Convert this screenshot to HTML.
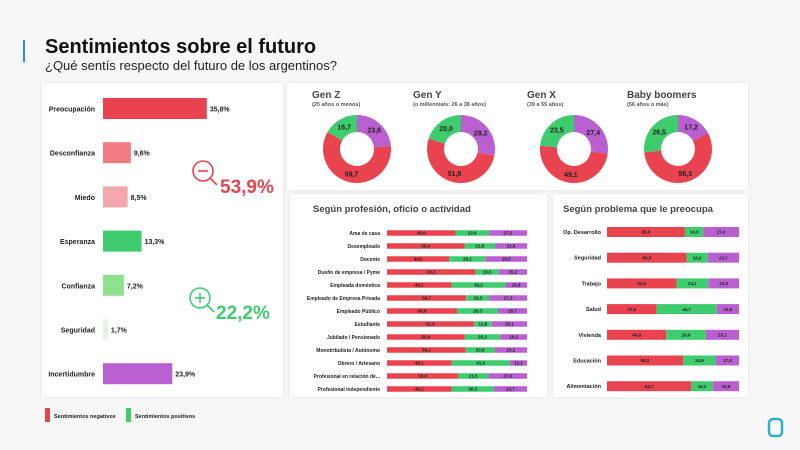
<!DOCTYPE html>
<html><head><meta charset="utf-8"><style>
body{margin:0;width:800px;height:450px;background:#f7f7f7;font-family:"Liberation Sans",sans-serif;position:relative;overflow:hidden}
.panel{position:absolute;background:#fff;box-shadow:0 0 4px rgba(0,0,0,.08)}
svg text{font-family:"Liberation Sans",sans-serif}
</style></head><body>
<div style="position:absolute;left:23px;top:40px;width:2px;height:22px;background:#2d8fd6"></div>
<div style="position:absolute;left:45px;top:36px;font-size:20px;font-weight:bold;color:#111">Sentimientos sobre el futuro</div>
<div style="position:absolute;left:45px;top:58px;font-size:13px;color:#222">¿Qué sentís respecto del futuro de los argentinos?</div>
<div class="panel" style="left:42px;top:83px;width:241px;height:314px"></div>
<div class="panel" style="left:287px;top:83px;width:461px;height:107px"></div>
<div class="panel" style="left:290px;top:194px;width:257px;height:203px"></div>
<div class="panel" style="left:553px;top:194px;width:195px;height:203px"></div>
<svg id="s" width="800" height="450" style="position:absolute;left:0;top:0"></svg>
<script>
const sentLabels=["Preocupación","Desconfianza","Miedo","Esperanza","Confianza","Seguridad","Incertidumbre"];
const sentValues=[35.8,9.6,8.5,13.3,7.2,1.7,23.9];
const sentColors=["#e8434f","#ef7b83","#f3a7ac","#3fcc6e","#8ee08c","#e3f5e0","#b95fd0"];
const genTitles=["Gen Z","Gen Y","Gen X","Baby boomers"];
const genSubs=["(25 años o menos)","(o millennials: 26 a 38 años)","(39 a 55 años)","(56 años o más)"];
const genPurple=[23.6,28.2,27.4,17.2];
const genRed=[59.7,51.8,49.1,56.3];
const genGreen=[16.7,20.0,23.5,26.5];
const profLabels=["Ama de casa","Desempleado","Docente","Dueño de empresa / Pyme","Empleada doméstica","Empleado de Empresa Privada","Empleado Público","Estudiante","Jubilado / Pensionado","Monotributista / Autónomo","Obrero / Artesano","Profesional en relación de...","Profesional independiente"];
const profRed=[48.9,55.4,44.5,63.3,46.1,56.7,50.0,62.0,55.6,56.2,46.1,50.9,46.2];
const profGreen=[23.9,21.8,26.1,16.5,38.2,16.3,29.3,12.8,25.3,20.6,41.6,21.5,30.3];
const profPurple=[27.2,22.8,29.5,20.2,15.6,27.2,20.7,25.1,19.2,23.2,12.2,27.6,23.7];
const probLabels=["Op. Desarrollo","Seguridad","Trabajo","Salud","Vivienda","Educación","Alimentación"];
const probRed=[59.0,60.3,52.6,37.5,44.9,58.2,63.7];
const probGreen=[14.0,16.0,24.1,45.7,29.9,24.9,16.2];
const probPurple=[27.0,23.7,23.3,16.9,25.2,17.8,19.8];
const RED="#e8434f",GREEN="#3fcc6e",PURPLE="#b95fd0";
const s=document.getElementById('s');const NS="http://www.w3.org/2000/svg";
function mk(t,a,txt){const e=document.createElementNS(NS,t);for(const k in a)e.setAttribute(k,a[k]);if(txt!==undefined)e.textContent=txt;s.appendChild(e);return e;}
const fmt=v=>v.toFixed(1).replace('.',',');
const sx=v=>v*2.9;
sentValues.forEach((v,i)=>{const y=109+i*44.2;
 let e=mk('rect',{x:103,y:y-11,width:sx(v),height:21,fill:sentColors[i]});
 
 e=mk('text',{x:95,y:y+2.5,'text-anchor':'end','font-size':7,'font-weight':'bold',fill:'#222'},sentLabels[i]);
 
 e=mk('text',{x:106+sx(v),y:y+2.5,'font-size':7,'font-weight':'bold',fill:'#222'},fmt(v)+'%');
 });
function icon(cx,cy,col,plus){mk('circle',{cx:cx,cy:cy,r:10,fill:'none',stroke:col,'stroke-width':1.6});
 mk('line',{x1:cx-5,y1:cy,x2:cx+5,y2:cy,stroke:col,'stroke-width':1.6});
 if(plus)mk('line',{x1:cx,y1:cy-5,x2:cx,y2:cy+5,stroke:col,'stroke-width':1.6});
 mk('line',{x1:cx+7,y1:cy+7,x2:cx+14,y2:cy+14,stroke:col,'stroke-width':1.6});}
icon(203,171,RED,false);icon(200,298,GREEN,true);
let t=mk('text',{x:220,y:193,'font-size':19,'font-weight':'bold',fill:RED},'53,9%');
t=mk('text',{x:216,y:319,'font-size':19,'font-weight':'bold',fill:GREEN},'22,2%');
mk('rect',{x:45,y:408,width:5,height:14,fill:RED});
t=mk('text',{x:54,y:418,'font-size':5.5,'font-weight':'bold',fill:'#222'},'Sentimientos negativos');
mk('rect',{x:126,y:408,width:5,height:14,fill:GREEN});
t=mk('text',{x:135,y:418,'font-size':5.5,'font-weight':'bold',fill:'#222'},'Sentimientos positivos');
const gcx=[357,461,574,678],gtx=[312,413,527,627];
function arc(cx,cy,R,r,a0,a1){const p=(a,rr)=>[cx+rr*Math.sin(a),cy-rr*Math.cos(a)];const L=(a1-a0)>Math.PI?1:0;
 const [x1,y1]=p(a0,R),[x2,y2]=p(a1,R),[x3,y3]=p(a1,r),[x4,y4]=p(a0,r);
 return `M${x1},${y1}A${R},${R} 0 ${L} 1 ${x2},${y2}L${x3},${y3}A${r},${r} 0 ${L} 0 ${x4},${y4}Z`;}
genTitles.forEach((g,i)=>{
 t=mk('text',{x:gtx[i],y:98,'font-size':10,'font-weight':'bold',fill:'#444'},g);
 mk('text',{x:gtx[i],y:106,'font-size':5.5,'font-weight':'bold',fill:'#555'},genSubs[i]);
 const vals=[genPurple[i],genRed[i],genGreen[i]],cols=[PURPLE,RED,GREEN];const tot=vals.reduce((a,b)=>a+b,0);
 let a=0;const cx=gcx[i],cy=149;
 vals.forEach((v,j)=>{const a1=a+v/tot*2*Math.PI;
  const e=mk('path',{d:arc(cx,cy,34,17,a,a1),fill:cols[j]});
  const m=(a+a1)/2;mk('text',{x:cx+25.5*Math.sin(m),y:cy-25.5*Math.cos(m)+2.5,'text-anchor':'middle','font-size':7,'font-weight':'bold',fill:'#222'},fmt(v));
  a=a1;});});
function stack(title,tx,labels,R,G,P,x0,w,y0,dy,h,lab,fs){
 t=mk('text',{x:tx,y:212,'font-size':9.5,'font-weight':'bold',fill:'#444'},title);
 labels.forEach((l,i)=>{const y=y0+i*dy;const vals=[R[i],G[i],P[i]],cols=[RED,GREEN,PURPLE];const tot=vals.reduce((a,b)=>a+b,0);
  let x=x0;
  vals.forEach((v,j)=>{const ww=v/tot*w;const e=mk('rect',{x:x,y:y-h/2,width:ww,height:h,fill:cols[j]});
   
   mk('text',{x:x+ww/2,y:y+1.7,'text-anchor':'middle','font-size':4.5,'font-weight':'bold',fill:'#222'},fmt(v));x+=ww;});
  mk('text',{x:lab,y:y+2,'text-anchor':'end','font-size':fs,'font-weight':'bold',fill:'#222'},l);});}
stack("Según profesión, oficio o actividad",313,profLabels,profRed,profGreen,profPurple,387,140,233,13,5.5,380,5);
stack("Según problema que le preocupa",563,probLabels,probRed,probGreen,probPurple,607,132,232,25.7,10,601,5.5);
mk('rect',{x:769,y:419,width:13,height:17,rx:4,fill:'none',stroke:'#2ab0c9','stroke-width':2.5});
</script>
</body></html>
